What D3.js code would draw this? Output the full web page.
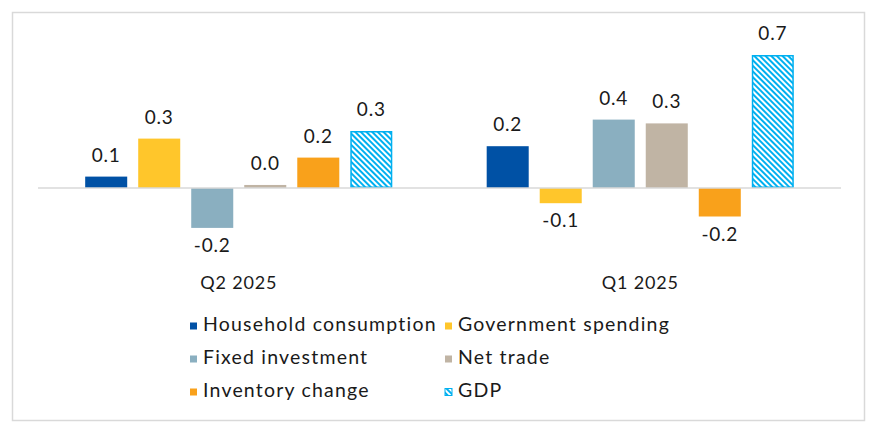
<!DOCTYPE html>
<html>
<head>
<meta charset="utf-8">
<script src="https://cdn.jsdelivr.net/npm/d3@7"></script>
<style>
  body { margin: 0; background: #ffffff; }
  svg { display: block; font-family: Lato, "Open Sans", sans-serif; }
</style>
</head>
<body>
<svg id="chart"></svg>
<script>
const quarters = ['Q2 2025', 'Q1 2025'];
const seriesNames = ['Household consumption', 'Government spending', 'Fixed investment', 'Net trade', 'Inventory change', 'GDP'];
const seriesColors = ['#0051a5', '#ffc62b', '#8aafc0', '#c0b4a4', '#f9a11b', '#00b0f0'];
// one array per quarter, in series order
const q2Values = [0.06, 0.26, -0.21, 0.016, 0.16, 0.30];
const q1Values = [0.22, -0.08, 0.36, 0.34, -0.15, 0.70];
const valueLabels = [
  ['0.1', '0.3', '-0.2', '0.0', '0.2', '0.3'],
  ['0.2', '-0.1', '0.4', '0.3', '-0.2', '0.7']
];

const width = 885, height = 433;
const svg = d3.select('#chart').attr('width', width).attr('height', height);

// outer frame
svg.append('rect')
  .attr('x', 12.5).attr('y', 12.5)
  .attr('width', 852).attr('height', 408)
  .attr('fill', '#fff')
  .attr('stroke', '#d9d9d9')
  .attr('stroke-width', 1.5);

// stripe pattern for GDP
const defs = svg.append('defs');
const pat = defs.append('pattern')
  .attr('id', 'gdpStripe')
  .attr('patternUnits', 'userSpaceOnUse')
  .attr('width', 4).attr('height', 4)
  .attr('patternTransform', 'rotate(45)');
pat.append('rect').attr('width', 4).attr('height', 4).attr('fill', '#fff');
pat.append('rect').attr('width', 4).attr('height', 2).attr('fill', '#00b0f0');

const data = [q2Values, q1Values];

const x0 = d3.scaleBand()
  .domain(quarters)
  .range([38, 841])
  .paddingInner(0).paddingOuter(0);

const x1 = d3.scaleBand()
  .domain(seriesNames)
  .range([0, x0.bandwidth()])
  .paddingInner(0.2075)
  .paddingOuter(0.89);

const y = d3.scaleLinear()
  .domain([-0.4, 0.8])
  .range([264, 36]);

const groups = svg.append('g').selectAll('g')
  .data(quarters)
  .enter().append('g')
  .attr('transform', d => `translate(${x0(d)},0)`);

groups.each(function(q, qi) {
  const g = d3.select(this);
  const vals = data[qi];
  seriesNames.forEach((name, si) => {
    const v = vals[si];
    const isGdp = name === 'GDP';
    const bx = x1(name);
    const bw = x1.bandwidth();
    g.append('rect')
      .attr('x', isGdp ? bx + 0.75 : bx)
      .attr('y', y(Math.max(0, v)) + (isGdp ? 0.75 : 0))
      .attr('width', isGdp ? bw - 1.5 : bw)
      .attr('height', Math.abs(y(v) - y(0)) - (isGdp ? 1.5 : 0))
      .attr('fill', isGdp ? 'url(#gdpStripe)' : seriesColors[si])
      .attr('stroke', isGdp ? seriesColors[si] : 'none')
      .attr('stroke-width', 1.5);

    g.append('text')
      .attr('x', bx + bw / 2)
      .attr('y', v >= 0 ? y(v) - 15 : y(v) + 24)
      .attr('text-anchor', 'middle')
      .attr('font-size', 19)
      .attr('letter-spacing', 0.8)
      .attr('fill', '#1a1a1a')
      .text(valueLabels[qi][si]);
  });
});

// zero line
svg.append('line')
  .attr('x1', x0.range()[0]).attr('x2', x0.range()[1])
  .attr('y1', y(0)).attr('y2', y(0))
  .attr('stroke', '#d9d9d9')
  .attr('stroke-width', 1.5);

// category labels
svg.append('g').selectAll('text')
  .data(quarters)
  .enter().append('text')
  .attr('x', d => x0(d) + x0.bandwidth() / 2)
  .attr('y', 289)
  .attr('text-anchor', 'middle')
  .attr('font-size', 18)
  .attr('letter-spacing', 0.8)
  .attr('fill', '#1a1a1a')
  .text(d => d);

// legend
const legend = svg.append('g').selectAll('g')
  .data(seriesNames)
  .enter().append('g')
  .attr('transform', (d, i) => `translate(${i % 2 === 0 ? 190 : 445},${331 + Math.floor(i / 2) * 33})`);

legend.append('rect')
  .attr('x', 0).attr('y', -8.5)
  .attr('width', 7).attr('height', 7)
  .attr('fill', (d, i) => d === 'GDP' ? 'url(#gdpStripe)' : seriesColors[i])
  .attr('stroke', d => d === 'GDP' ? '#00b0f0' : 'none')
  .attr('stroke-width', 1);

legend.append('text')
  .attr('x', 13)
  .attr('y', 0)
  .attr('font-size', 19.5)
  .attr('letter-spacing', 1.2)
  .attr('fill', '#1a1a1a')
  .text(d => d);
</script>
</body>
</html>
